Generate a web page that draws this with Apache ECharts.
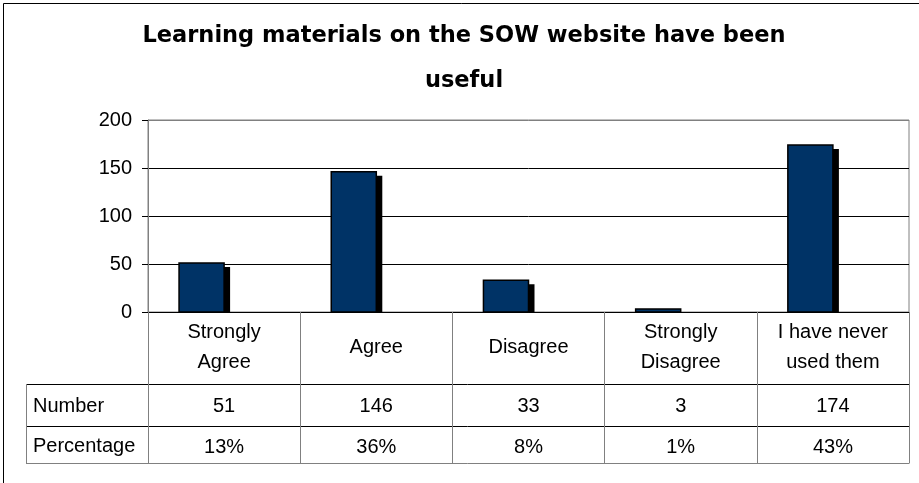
<!DOCTYPE html>
<html>
<head>
<meta charset="utf-8">
<script src="https://cdn.jsdelivr.net/npm/echarts@6/dist/echarts.min.js"></script>
<style>
html,body{margin:0;padding:0;background:#fff;}
#chart{width:919px;height:483px;}
</style>
</head>
<body>
<div id="chart"></div>
<script>
const titleText = 'Learning materials on the SOW website have been\nuseful';
const categories = ['Strongly\nAgree', 'Agree', 'Disagree', 'Strongly\nDisagree', 'I have never\nused them'];
const counts = [51, 146, 33, 3, 174];
const percentages = ['13%', '36%', '8%', '1%', '43%'];
const rowLabels = ['Number', 'Percentage'];
const yTicks = { min: 0, max: 200, interval: 50 };

const chart = echarts.init(document.getElementById('chart'), null, { renderer: 'canvas' });

const FONT = 'Liberation Sans';
const GRID = { left: 148, right: 10, top: 120, bottom: 171 };
const BAR_FRAC = 0.296;

function renderBar(params, api) {
  const idx = api.value(0);
  const v = api.value(1);
  const top = api.coord([idx, v]);
  const base = api.coord([idx, 0]);
  const band = api.size([1, 0])[0];
  const w = band * BAR_FRAC;
  const left = top[0] - w;
  const h = base[1] - top[1];
  const sh = Math.max(h - 4, 0);
  return {
    type: 'group',
    children: [
      { type: 'rect', shape: { x: left + 6, y: top[1] + 4, width: w, height: sh }, style: { fill: '#000' } },
      { type: 'rect', shape: { x: left, y: top[1], width: w, height: h }, style: { fill: '#003366', stroke: '#000', lineWidth: 1.5 } }
    ]
  };
}

const W = 919;
const plotLeft = GRID.left, plotRight = W - GRID.right;
const tableLeft = 26;
const row1 = 384, row2 = 426, row3 = 463;

const option = {
  animation: false,
  backgroundColor: '#fff',
  title: {
    text: titleText,
    left: 464,
    textAlign: 'center',
    top: 14,
    padding: 0,
    textStyle: { fontFamily: 'DejaVu Sans', fontWeight: 'bold', fontSize: 22.5, color: '#000', lineHeight: 45 }
  },
  grid: Object.assign({ show: true, borderColor: '#808080', borderWidth: 1, containLabel: false }, GRID),
  xAxis: [
    {
      type: 'category', data: categories, position: 'bottom',
      axisLine: { show: true, lineStyle: { color: '#000', width: 1 } },
      axisTick: { show: true, length: row3 - 312, interval: 0, lineStyle: { color: '#808080', width: 1 } },
      axisLabel: { interval: 0, margin: 35, verticalAlign: 'middle', align: 'center', lineHeight: 30, fontFamily: FONT, fontSize: 20, color: '#000' },
      splitLine: { show: false }
    },
    {
      type: 'category', data: counts.map(String), position: 'bottom',
      axisLine: { show: false }, axisTick: { show: false }, splitLine: { show: false },
      axisLabel: { interval: 0, margin: (row1 + row2) / 2 - 312 + 1.5, verticalAlign: 'middle', align: 'center', fontFamily: FONT, fontSize: 20, color: '#000' }
    },
    {
      type: 'category', data: percentages, position: 'bottom',
      axisLine: { show: false }, axisTick: { show: false }, splitLine: { show: false },
      axisLabel: { interval: 0, margin: (row2 + row3) / 2 - 312 + 2.5, verticalAlign: 'middle', align: 'center', fontFamily: FONT, fontSize: 20, color: '#000' }
    }
  ],
  yAxis: {
    type: 'value', min: yTicks.min, max: yTicks.max, interval: yTicks.interval,
    axisLine: { show: true, lineStyle: { color: '#808080', width: 1 } },
    axisTick: { show: true, length: 6, lineStyle: { color: '#000' } },
    axisLabel: { margin: 16, fontFamily: FONT, fontSize: 20, color: '#000' },
    splitLine: { show: true, lineStyle: { color: ['#000', '#000', '#000', '#000', '#808080'], width: 1 } }
  },
  series: [{
    type: 'custom',
    xAxisIndex: 0,
    renderItem: renderBar,
    encode: { x: 0, y: 1 },
    data: counts.map((v, i) => [i, v]),
    z: 5
  }],
  graphic: [
    { type: 'line', shape: { x1: 3.5, y1: 3.5, x2: 919, y2: 3.5 }, style: { stroke: '#000', lineWidth: 1 } },
    { type: 'line', shape: { x1: 3.5, y1: 3.5, x2: 3.5, y2: 483 }, style: { stroke: '#000', lineWidth: 1 } },
    { type: 'line', shape: { x1: tableLeft, y1: row1 + 0.5, x2: plotRight, y2: row1 + 0.5 }, style: { stroke: '#000', lineWidth: 1 } },
    { type: 'line', shape: { x1: tableLeft, y1: row2 + 0.5, x2: plotRight, y2: row2 + 0.5 }, style: { stroke: '#000', lineWidth: 1 } },
    { type: 'line', shape: { x1: tableLeft, y1: row3 + 0.5, x2: plotRight + 0.5, y2: row3 + 0.5 }, style: { stroke: '#808080', lineWidth: 1 } },
    { type: 'line', shape: { x1: tableLeft + 0.5, y1: row1, x2: tableLeft + 0.5, y2: row3 }, style: { stroke: '#808080', lineWidth: 1 } },
    { type: 'text', left: 33, top: (row1 + row2) / 2 - 9, style: { text: rowLabels[0], font: '20px "Liberation Sans"', fill: '#000' } },
    { type: 'text', left: 33, top: (row2 + row3) / 2 - 8.5, style: { text: rowLabels[1], font: '20px "Liberation Sans"', fill: '#000' } }
  ]
};
chart.setOption(option);
</script>
</body>
</html>
